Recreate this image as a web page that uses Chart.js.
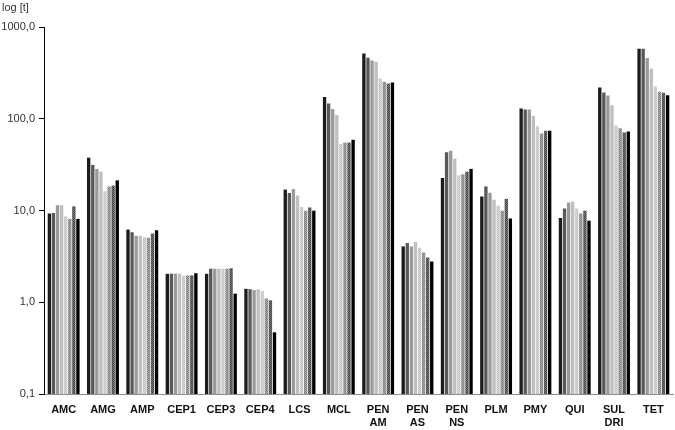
<!DOCTYPE html>
<html>
<head>
<meta charset="utf-8">
<script src="https://cdn.jsdelivr.net/npm/chart.js@4/dist/chart.umd.min.js"></script>
<style>
  body { margin: 0; background: #fff; }
  canvas { display: block; }
</style>
</head>
<body>
<canvas id="chart" width="675" height="430"></canvas>
<script>
/* ================= DATA ================= */
const categories = ['AMC', 'AMG', 'AMP', 'CEP1', 'CEP3', 'CEP4', 'LCS', 'MCL',
  ['PEN', 'AM'], ['PEN', 'AS'], ['PEN', 'NS'], 'PLM', 'PMY', 'QUI', ['SUL', 'DRI'], 'TET'];

const yTickValues = [0.1, 1, 10, 100, 1000];
const yTickLabels = ['0,1', '1,0', '10,0', '100,0', '1000,0'];

const series1 = [9.3, 37.7, 6.2, 2.04, 2.04, 1.40, 16.9, 173, 515, 4.06, 22.6, 14.2, 129, 8.28, 219, 580];
const series2 = [9.4, 31.4, 5.8, 2.05, 2.32, 1.39, 15.5, 147, 462, 4.42, 43.1, 18.3, 126, 10.5, 193, 580];
const series3 = [11.4, 28.4, 5.3, 2.05, 2.32, 1.36, 17.2, 128, 432, 4.06, 44.9, 15.6, 126, 12.2, 179, 458];
const series4 = [11.4, 26.5, 5.3, 2.05, 2.32, 1.38, 14.6, 110, 418, 4.53, 36.8, 13.1, 108, 12.5, 140, 351];
const series5 = [8.6, 16.2, 5.1, 1.95, 2.32, 1.33, 10.9, 53, 275, 3.93, 24.2, 11.3, 83, 10.5, 84.3, 225];
const series6 = [8.1, 18.3, 5.05, 1.96, 2.32, 1.10, 9.95, 55, 253, 3.49, 24.8, 9.95, 69, 9.3, 78.7, 197];
const series7 = [11.1, 18.7, 5.6, 1.96, 2.35, 1.05, 10.8, 55, 242, 3.08, 26.5, 13.4, 74, 9.95, 70.6, 192];
const series8 = [8.1, 21.3, 6.1, 2.07, 1.24, 0.47, 9.95, 59, 248, 2.78, 28.4, 8.2, 74, 7.74, 72.4, 180];

/* ================= FILLS ================= */
const canvas = document.getElementById('chart');
const ctx = canvas.getContext('2d');

// small checker pattern for the "dotted" grey fills
function dots(base, dot) {
  const c = document.createElement('canvas');
  c.width = 2; c.height = 2;
  const x = c.getContext('2d');
  x.fillStyle = base; x.fillRect(0, 0, 2, 2);
  x.fillStyle = dot; x.fillRect(0, 0, 1, 1); x.fillRect(1, 1, 1, 1);
  return ctx.createPattern(c, 'repeat');
}

const fills = [
  '#1c1c1c',
  '#595959',
  '#9a9a9a',
  '#bfbfbf',
  dots('#dcdcdc', '#bdbdbd'),
  dots('#a8a8a8', '#808080'),
  dots('#7a7a7a', '#404040'),
  '#000000'
];
const allSeries = [series1, series2, series3, series4, series5, series6, series7, series8];

/* ================= CHART ================= */
const yTitle = {
  id: 'yTitle',
  afterDraw(chart) {
    const c = chart.ctx;
    c.save();
    c.font = '11px "Liberation Sans", Arial, sans-serif';
    c.fillStyle = '#333';
    c.textBaseline = 'middle';
    c.fillText('log [t]', 2, 8);
    c.restore();
  }
};

new Chart(ctx, {
  type: 'bar',
  data: {
    labels: categories,
    datasets: allSeries.map((d, i) => ({
      label: 'S' + (i + 1),
      data: d,
      backgroundColor: fills[i],
      borderWidth: 0,
      categoryPercentage: 0.83,
      barPercentage: 0.82
    }))
  },
  options: {
    responsive: false,
    animation: false,
    layout: { padding: { top: 27, right: 2, left: 0, bottom: 0 } },
    plugins: {
      legend: { display: false },
      tooltip: { enabled: false }
    },
    scales: {
      x: {
        grid: { display: false, drawTicks: false },
        border: { color: '#8c8c8c', width: 1 },
        ticks: {
          color: '#111',
          padding: 10,
          maxRotation: 0,
          autoSkip: false,
          font: { family: '"Liberation Sans", Arial, sans-serif', size: 11, weight: 'bold', lineHeight: 1.15 }
        },
        afterFit(scale) { scale.height = 36; }
      },
      y: {
        type: 'logarithmic',
        min: 0.1,
        max: 1000,
        grid: { display: true, drawOnChartArea: false, drawTicks: true, tickLength: 5, color: '#000' },
        border: { color: '#000', width: 1 },
        afterBuildTicks(axis) {
          axis.ticks = yTickValues.map(v => ({ value: v }));
        },
        ticks: {
          color: '#333',
          padding: 4,
          font: { family: '"Liberation Sans", Arial, sans-serif', size: 11 },
          callback: (v) => {
            const i = yTickValues.indexOf(v);
            return i >= 0 ? yTickLabels[i] : '';
          }
        },
        afterFit(scale) { scale.width = 44; }
      }
    }
  },
  plugins: [yTitle]
});
</script>
</body>
</html>
